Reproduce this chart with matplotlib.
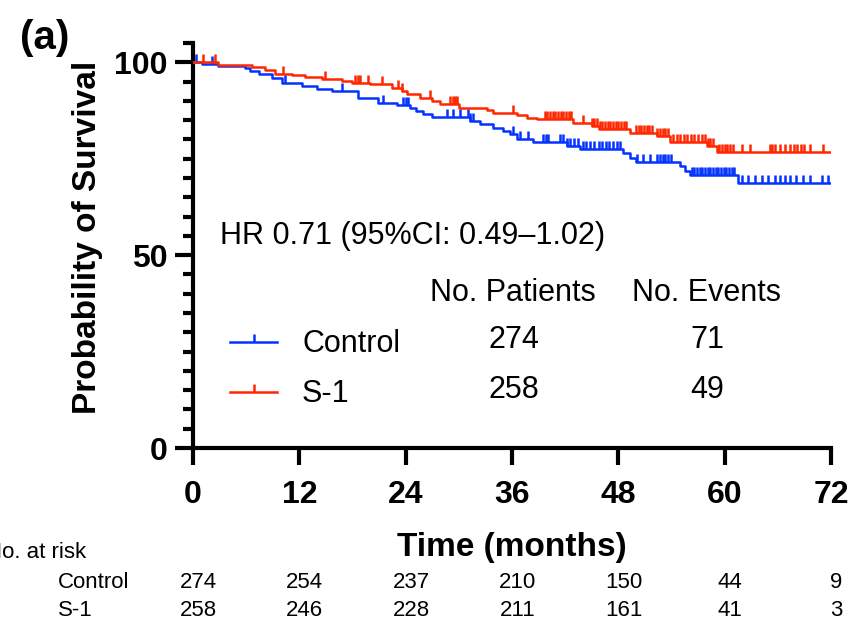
import numpy as np
import matplotlib
matplotlib.use('Agg')
import matplotlib.pyplot as plt
from matplotlib.path import Path
from matplotlib.lines import Line2D
from matplotlib.transforms import blended_transform_factory

# Data -----------------------------------------------------------------------------------
blue_t = [0, 1.0, 2.8, 5.9, 6.4, 7.5, 8.9, 10.0, 12.3, 14.0, 15.7, 18.6, 20.9, 23.0,
          24.5, 25.2, 26.0, 27.0, 31.3, 32.4, 33.9, 35.0, 35.8, 36.6, 38.4, 42.2, 43.7,
          48.5, 49.3, 50.0, 55.0, 55.5, 56.1, 61.5]
blue_s = [100, 99.6, 99.1, 98.4, 97.7, 97.0, 96.0, 94.7, 93.8, 93.2, 92.5, 90.8, 89.5, 88.9,
          88.2, 87.4, 86.7, 85.9, 84.8, 83.9, 83.0, 82.2, 81.3, 80.2, 79.3, 78.3, 77.4,
          76.5, 75.2, 74.2, 73.1, 71.8, 70.8, 68.6]
blue_cens = [0.3, 2.1, 10.4, 16.8, 21.4, 23.7, 24.0, 24.3, 28.7, 29.3, 30.1, 31.0, 31.3, 31.6,
             36.1, 36.9, 37.8, 39.5, 39.8, 40.1, 41.4, 41.8, 42.2, 42.6, 43.0, 43.5, 44.0,
             44.4, 44.8, 45.3, 45.8, 46.2, 46.6, 47.0, 47.4, 47.8, 48.2, 50.1, 50.8, 51.6,
             52.4, 52.7, 53.0, 53.3, 53.6, 53.9, 56.3, 56.6, 56.9, 57.2, 57.5, 57.8, 58.1,
             58.4, 58.7, 59.0, 59.3, 59.6, 59.9, 60.2, 60.5, 60.8, 61.1, 62.0, 62.6, 63.4,
             64.2, 64.9, 65.7, 66.3, 66.8, 67.4, 68.0, 68.8, 69.6, 71.0, 71.7]

red_t = [0, 2.8, 6.7, 8.1, 9.3, 11.2, 12.6, 14.6, 16.8, 18.0, 20.0, 22.5, 23.6, 24.2, 25.6,
         27.0, 27.9, 30.0, 33.2, 33.9, 36.6, 37.7, 38.8, 42.9, 45.0, 45.8, 49.3, 52.4, 53.8,
         58.0, 59.1]
red_s = [100, 99.3, 98.9, 98.0, 97.1, 96.6, 96.3, 95.6, 95.1, 94.7, 94.3, 93.4, 92.5, 91.7,
         90.8, 90.0, 89.1, 88.2, 87.6, 86.9, 86.3, 85.6, 85.2, 84.3, 83.5, 82.6, 81.7, 80.9,
         79.3, 78.3, 76.7]
red_cens = [1.1, 2.5, 10.2, 14.9, 18.3, 18.6, 18.8, 19.7, 21.3, 23.1, 23.6, 26.7, 29.0, 29.3,
            29.6, 29.8, 36.1, 39.7, 40.0, 40.3, 40.6, 40.9, 41.2, 41.5, 41.8, 42.1, 42.4, 42.7,
            44.0, 45.0, 45.3, 45.6, 45.9, 46.2, 46.5, 46.8, 47.1, 47.4, 47.7, 48.0, 48.3, 48.6,
            48.9, 50.0, 50.3, 50.6, 50.9, 51.2, 51.5, 51.8, 52.4, 52.7, 53.0, 53.3, 53.6, 54.2,
            54.6, 55.0, 55.4, 55.8, 56.2, 56.6, 57.0, 57.4, 57.8, 58.1, 58.4, 58.7, 59.4, 59.7,
            60.0, 60.3, 60.6, 61.0, 62.0, 62.9, 65.1, 65.4, 65.7, 66.3, 66.8, 67.4, 67.8, 68.2,
            68.6, 69.0, 69.6, 71.1]
follow_up_end = 72

groups = ['Control', 'S-1']
n_patients = [274, 258]
n_events = [71, 49]
hr_text = 'HR 0.71 (95%CI: 0.49\u20131.02)'

risk_times = [0, 12, 24, 36, 48, 60, 72]
risk_control = [274, 254, 237, 210, 150, 44, 9]
risk_s1 = [258, 246, 228, 211, 161, 41, 3]

BLUE = '#0433FF'
RED = '#FF2600'

# Style -------------------------------------------------------------------------------
plt.rcParams['font.family'] = ['Liberation Sans', 'DejaVu Sans']

tick_marker = Path([(0, 0), (0, 1)], [Path.MOVETO, Path.LINETO])
lw = 1.8

fig = plt.figure(figsize=(8.52, 6.22), dpi=100)
ax = fig.add_axes([0.2265, 0.2797, 0.7488, 0.6511])


def km(ax, t, s, cens, color):
    tt = list(t) + [follow_up_end]
    ss = list(s) + [s[-1]]
    ax.step(tt, ss, where='post', color=color, lw=lw, zorder=3)
    idx = np.searchsorted(t, cens, side='right') - 1
    cs = np.array(s)[idx]
    ax.plot(cens, cs, ls='none', marker=tick_marker, ms=11, mew=lw,
            color=color, zorder=3)


km(ax, blue_t, blue_s, blue_cens, BLUE)
km(ax, red_t, red_s, red_cens, RED)

ax.set_xlim(0, 72)
ax.set_ylim(0, 105)
ax.spines['top'].set_visible(False)
ax.spines['right'].set_visible(False)
for sp in ['left', 'bottom']:
    ax.spines[sp].set_linewidth(3)
ax.set_xticks(risk_times)
ax.set_yticks([0, 50, 100])
ax.set_yticks(np.arange(0, 106, 5), minor=True)
ax.tick_params(axis='y', which='major', length=13, width=3, pad=5, labelsize=23)
ax.tick_params(axis='y', which='minor', length=7, width=3)
ax.tick_params(axis='x', which='major', length=12, width=3, pad=11, labelsize=23)
for lab in ax.get_xticklabels() + ax.get_yticklabels():
    lab.set_fontweight('bold')
ax.set_xlabel('Time (months)', fontsize=24, fontweight='bold', labelpad=16)
ax.set_ylabel('Probability of Survival', fontsize=24, fontweight='bold')
ax.yaxis.set_label_coords(-0.141, 0.52)

# annotations
fs = 22
ax.text(3.0, 55, hr_text, fontsize=fs, va='center')
ax.text(26.7, 40.3, 'No. Patients', fontsize=fs, va='center')
ax.text(49.5, 40.3, 'No. Events', fontsize=fs, va='center')
for i, yy in enumerate([28, 15]):
    ax.text(36.2, yy, str(n_patients[i]), fontsize=fs, va='center', ha='center')
    ax.text(58.0, yy, str(n_events[i]), fontsize=fs, va='center', ha='center')

handles = [Line2D([], [], color=BLUE, lw=lw, marker=tick_marker, ms=11, mew=lw),
           Line2D([], [], color=RED, lw=lw, marker=tick_marker, ms=11, mew=lw)]
ax.legend(handles, groups, loc='upper left', bbox_to_anchor=(0.058, 0.293),
          frameon=False, fontsize=fs, handlelength=1.54, handletextpad=0.82,
          labelspacing=0.65, borderpad=0, borderaxespad=0, numpoints=1)

fig.text(0.023, 0.939, '(a)', fontsize=29, fontweight='bold', va='center')

# at-risk table
tr = blended_transform_factory(ax.transData, fig.transFigure)
tfs = 16
fig.text(-0.0164, 1 - 553 / 622, 'No. at risk', fontsize=tfs, va='center')
fig.text(58 / 852, 1 - 583 / 622, 'Control', fontsize=tfs, va='center')
fig.text(58 / 852, 1 - 610 / 622, 'S-1', fontsize=tfs, va='center')
for i, tm in enumerate(risk_times):
    ax.text(tm + 0.6, 1 - 583 / 622, str(risk_control[i]), transform=tr, fontsize=tfs,
            ha='center', va='center')
    ax.text(tm + 0.6, 1 - 610 / 622, str(risk_s1[i]), transform=tr, fontsize=tfs,
            ha='center', va='center')

fig.savefig('out.png', dpi=100)
